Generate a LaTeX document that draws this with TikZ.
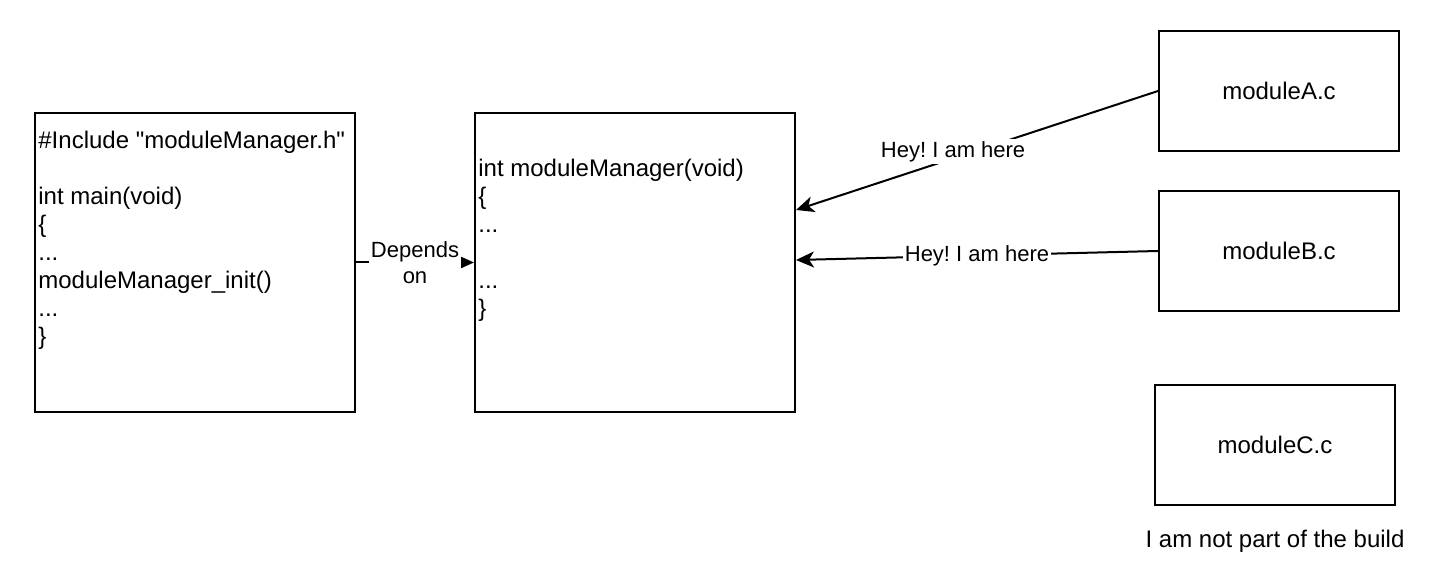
\documentclass[tikz,border=0pt]{standalone}
\usepackage{fontspec}
\setmainfont{Liberation Sans}
\newfontfamily\plainsans{Liberation Sans}
\usetikzlibrary{arrows.meta}
\frenchspacing
\begin{document}
\begin{tikzpicture}[x=0.5pt,y=-0.5pt,
  bigbox/.style={draw, line width=1pt, minimum width=160pt, minimum height=149.5pt, inner sep=0pt},
  modbox/.style={draw, line width=1pt, minimum width=120pt, minimum height=60pt, inner sep=0pt, font=\fontsize{12}{14}\selectfont},
  codetext/.style={anchor=west, align=left, inner sep=0pt, font=\fontsize{12}{14}\selectfont},
  conn/.style={draw, line width=1pt},
  lab/.style={fill=white, inner sep=1pt, align=center, font=\fontsize{11}{13}\selectfont},
  classic/.style={-{Stealth[length=9pt,width=8pt,inset=2.5pt]}},
  block/.style={-{Triangle[length=7pt,width=6pt]}}]
\useasboundingbox (0,0) rectangle (1436,576);
\node[bigbox] (main) at (195,262.5) {};
\node[codetext] (maintext) at (38,240) {\#Include {\plainsans"}moduleManager.h{\plainsans"}\\~\\int main(void)\\\{\\...\\moduleManager\_init()\\...\\\}};
\node[bigbox] (mm) at (635,262.5) {};
\node[codetext] (mmtext) at (478,240) {int moduleManager(void)\\\{\\...\\~\\...\\\}};
\node[modbox] (modA) at (1279,91) {moduleA.c};
\node[modbox] (modB) at (1279,251) {moduleB.c};
\node[modbox] (modC) at (1275,445) {moduleC.c};
\node[inner sep=0pt, font=\fontsize{12}{14}\selectfont] (note) at (1275,541) {I am not part of the build};
\draw[conn, block] (main.east) -- node[lab]{Depends\\on} (mm.west);
\draw[conn, classic] (modA.west) -- node[lab, pos=0.566, yshift=3.5pt]{Hey! I am here} ([yshift=26.25pt]mm.east);
\draw[conn, classic] (modB.west) -- node[lab]{Hey! I am here} ([yshift=1.25pt]mm.east);
\end{tikzpicture}
\end{document}
